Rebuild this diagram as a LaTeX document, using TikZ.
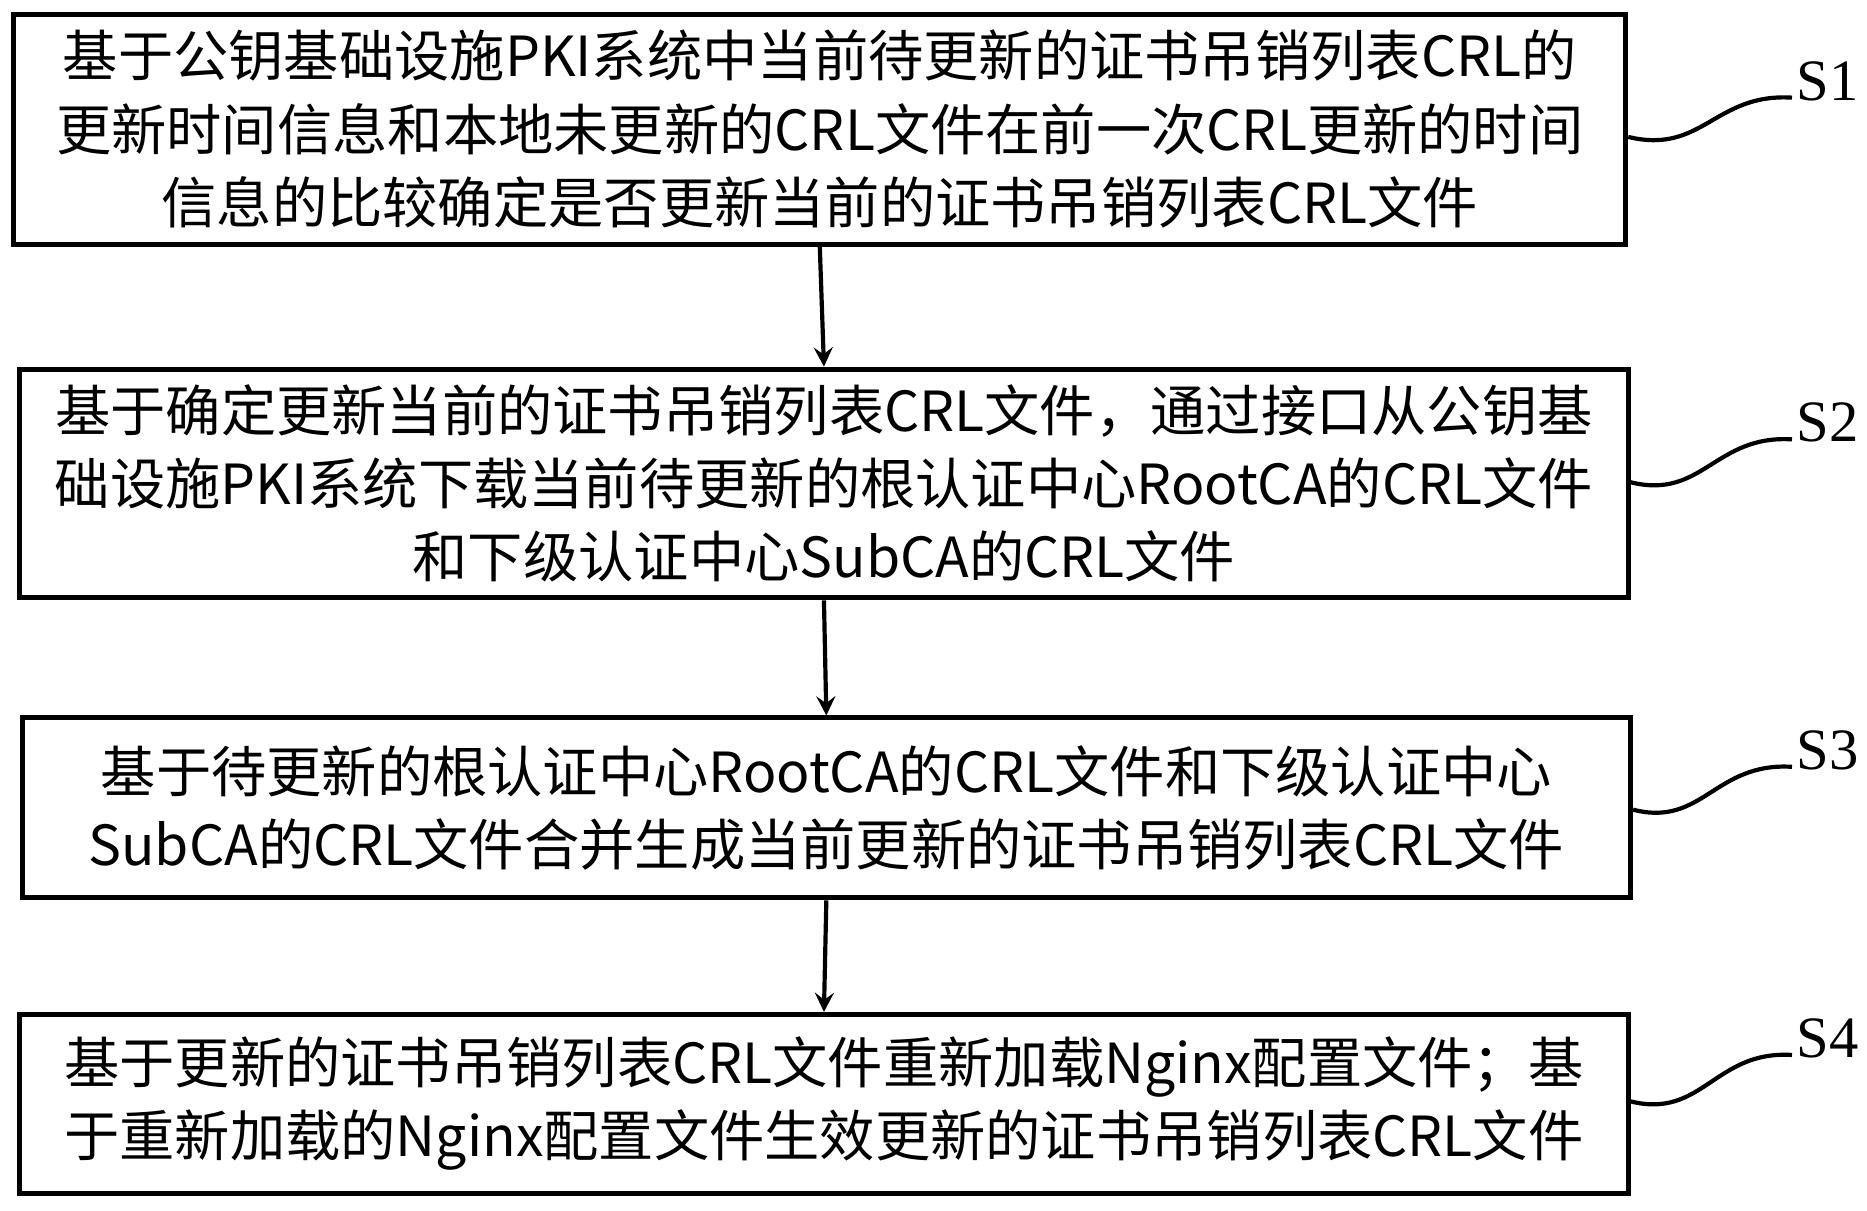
\documentclass[tikz,border=0pt]{standalone}
\usepackage{fontspec}
\setmainfont{Noto Sans CJK SC}
\newfontfamily\labfont{Liberation Serif}
\begin{document}
\begin{tikzpicture}[x=0.01cm,y=-0.01cm,
  box/.style={draw,line width=1.2pt,align=center,inner sep=0pt,font=\fontsize{13.2}{17.5}\selectfont},
  arr/.style={->,>=stealth,line width=1pt},
  lab/.style={font=\labfont\fontsize{14}{16}\selectfont}]
\useasboundingbox (0,0) rectangle (1568,1017);
\node[box,minimum width=13.53cm,minimum height=1.93cm] (b1) at (688.5,108.5)
 {基于公钥基础设施PKI系统中当前待更新的证书吊销列表CRL的\\更新时间信息和本地未更新的CRL文件在前一次CRL更新的时间\\信息的比较确定是否更新当前的证书吊销列表CRL文件};
\node[box,minimum width=13.5cm,minimum height=1.92cm] (b2) at (692,406)
 {基于确定更新当前的证书吊销列表CRL文件，通过接口从公钥基\\础设施PKI系统下载当前待更新的根认证中心RootCA的CRL文件\\和下级认证中心SubCA的CRL文件};
\node[box,minimum width=13.5cm,minimum height=1.51cm] (b3) at (694,678.5)
 {基于待更新的根认证中心RootCA的CRL文件和下级认证中心\\SubCA的CRL文件合并生成当前更新的证书吊销列表CRL文件};
\node[box,minimum width=13.5cm,minimum height=1.5cm] (b4) at (692,927)
 {基于更新的证书吊销列表CRL文件重新加载Nginx配置文件；基\\于重新加载的Nginx配置文件生效更新的证书吊销列表CRL文件};
\draw[arr] (b1.south) -- (b2.north);
\draw[arr] (b2.south) -- (b3.north);
\draw[arr] (b3.south) -- (b4.north);
\foreach \i/\y/\ly in {1/115/68,2/405/355,3/680/630,4/925/872}{
  \node[lab] (s\i) at (1535,\ly) {S\i};
  \coordinate (c\i) at (1505,\ly+14);
  \draw[line width=1pt] (b\i.east|-0,\y) .. controls (1430,\y+15) and (1440,\ly+10) .. (c\i);
}
\end{tikzpicture}
\end{document}
